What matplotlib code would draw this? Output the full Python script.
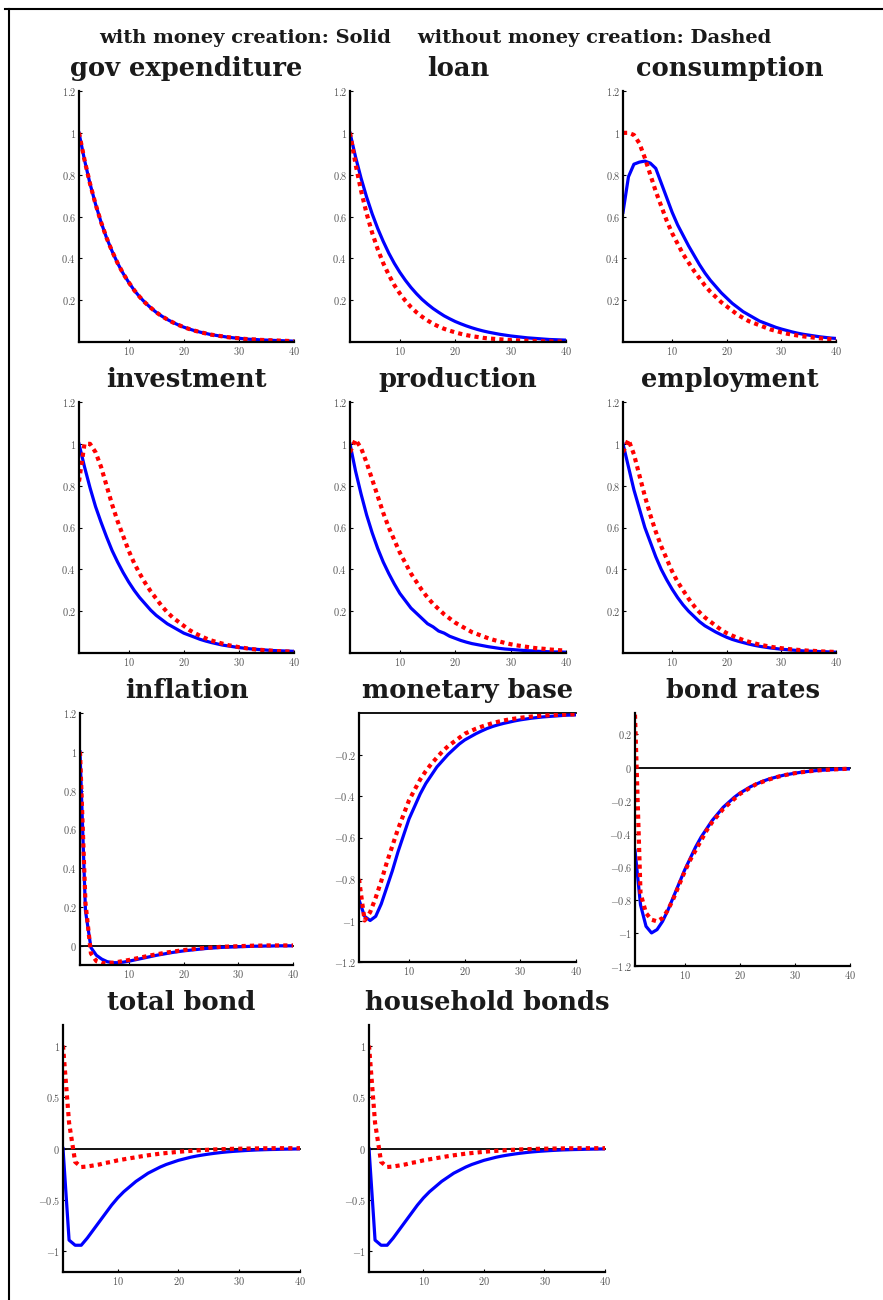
import numpy as np
import matplotlib
matplotlib.use('Agg')
import matplotlib.pyplot as plt
from matplotlib.lines import Line2D
from matplotlib.ticker import FuncFormatter

# periods after the shock
periods = np.arange(1, 41)

# impulse responses (solid = with money creation, dashed = without)
gov_with = [1.00, .87, .757, .659, .573, .498, .434, .377, .328, .286, .248, .216, .188, .164, .142, .124, .108, .094, .082, .071,
            .062, .054, .047, .041, .035, .031, .027, .023, .020, .018, .015, .013, .012, .010, .009, .008, .007, .006, .005, .004]
gov_without = [1.00, .87, .757, .659, .573, .498, .434, .377, .328, .286, .248, .216, .188, .164, .142, .124, .108, .094, .082, .071,
               .062, .054, .047, .041, .035, .031, .027, .023, .020, .018, .015, .013, .012, .010, .009, .008, .007, .006, .005, .004]

loan_with = [1.00, .885, .783, .693, .613, .543, .481, .425, .376, .333, .295, .261, .231, .204, .181, .160, .142, .125, .111, .098,
             .087, .077, .068, .060, .053, .047, .042, .037, .033, .029, .026, .023, .020, .018, .016, .014, .012, .011, .010, .009]
loan_without = [1.00, .85, .723, .614, .522, .444, .377, .321, .272, .232, .197, .167, .142, .121, .103, .087, .074, .063, .054, .046,
                .039, .033, .028, .024, .020, .017, .015, .013, .011, .009, .008, .007, .006, .005, .004, .003, .003, .002, .002, .002]

cons_with = [.62, .79, .85, .86, .865, .855, .83, .76, .69, .62, .56, .51, .46, .415, .37, .33, .295, .265, .235, .21,
             .185, .165, .145, .13, .115, .10, .09, .08, .07, .062, .055, .048, .042, .037, .033, .029, .025, .022, .019, .017]
cons_without = [1.00, 1.00, .99, .95, .88, .80, .72, .65, .58, .52, .47, .42, .38, .34, .305, .27, .24, .215, .19, .17,
                .15, .13, .115, .10, .09, .08, .07, .06, .053, .046, .04, .035, .031, .027, .024, .021, .018, .016, .014, .012]

inv_with = [1.00, .89, .79, .70, .625, .555, .49, .435, .385, .34, .30, .265, .235, .205, .18, .16, .14, .125, .11, .095,
            .085, .075, .065, .057, .05, .044, .038, .034, .03, .026, .023, .02, .018, .016, .014, .012, .011, .01, .009, .008]
inv_without = [.82, 1.00, 1.00, .96, .89, .80, .71, .63, .56, .49, .43, .38, .335, .295, .26, .225, .195, .17, .15, .13,
               .11, .095, .082, .07, .06, .052, .045, .038, .033, .028, .024, .02, .017, .015, .013, .011, .009, .008, .007, .006]

prod_with = [1.00, .87, .76, .66, .575, .50, .435, .38, .33, .285, .25, .215, .19, .165, .14, .125, .105, .095, .08, .07,
             .06, .052, .045, .04, .035, .03, .026, .022, .019, .017, .015, .013, .011, .01, .008, .007, .006, .005, .005, .004]
prod_without = [.96, 1.02, .98, .91, .83, .75, .67, .60, .54, .48, .43, .38, .34, .30, .265, .235, .21, .185, .165, .145,
                .13, .115, .10, .09, .08, .07, .062, .055, .048, .042, .037, .033, .029, .025, .022, .02, .017, .015, .013, .012]

emp_with = [1.00, .89, .78, .69, .60, .53, .46, .40, .35, .305, .265, .23, .20, .175, .15, .13, .115, .10, .087, .075,
            .065, .057, .05, .043, .037, .032, .028, .024, .021, .018, .016, .014, .012, .01, .009, .008, .007, .006, .005, .004]
emp_without = [.96, 1.02, .95, .85, .75, .66, .58, .51, .45, .39, .34, .30, .26, .225, .195, .17, .15, .13, .11, .095,
               .083, .072, .062, .054, .047, .04, .035, .03, .026, .023, .02, .017, .015, .013, .011, .01, .008, .007, .006, .005]

infl_with = [1.00, .18, -.01, -.05, -.07, -.083, -.088, -.088, -.085, -.08, -.074, -.068, -.062, -.056, -.05, -.045, -.04, -.035, -.031, -.027,
             -.024, -.021, -.018, -.015, -.013, -.011, -.009, -.008, -.007, -.006, -.005, -.004, -.003, -.003, -.002, -.002, -.001, -.001, -.001, -.001]
infl_without = [1.00, .22, -.04, -.08, -.09, -.09, -.088, -.084, -.079, -.074, -.068, -.062, -.056, -.05, -.045, -.04, -.035, -.031, -.027, -.023,
                -.02, -.017, -.014, -.012, -.01, -.008, -.006, -.005, -.004, -.003, -.002, -.001, 0, 0, .001, .001, .001, .001, .001, .001]

mb_with = [-.90, -.98, -1.0, -.98, -.92, -.84, -.76, -.67, -.59, -.51, -.45, -.39, -.34, -.30, -.26, -.23, -.20, -.175, -.15, -.13,
           -.115, -.10, -.087, -.075, -.065, -.057, -.05, -.044, -.038, -.033, -.029, -.025, -.022, -.019, -.017, -.015, -.013, -.011, -.01, -.009]
mb_without = [-.80, -1.0, -.96, -.89, -.81, -.72, -.64, -.56, -.49, -.42, -.37, -.32, -.28, -.245, -.215, -.185, -.16, -.14, -.12, -.10,
              -.088, -.076, -.066, -.057, -.049, -.042, -.036, -.031, -.027, -.023, -.02, -.017, -.015, -.013, -.011, -.01, -.009, -.008, -.007, -.006]

rate_with = [-.50, -.83, -.96, -1.0, -.98, -.93, -.86, -.78, -.70, -.62, -.55, -.48, -.42, -.37, -.32, -.28, -.24, -.21, -.18, -.155,
             -.135, -.115, -.10, -.085, -.073, -.063, -.054, -.046, -.04, -.034, -.029, -.025, -.021, -.018, -.016, -.014, -.012, -.01, -.009, -.008]
rate_without = [.32, -.76, -.88, -.92, -.93, -.91, -.86, -.79, -.71, -.63, -.56, -.50, -.44, -.38, -.33, -.29, -.25, -.22, -.19, -.16,
                -.14, -.12, -.10, -.088, -.075, -.065, -.055, -.047, -.04, -.034, -.029, -.025, -.021, -.018, -.015, -.013, -.011, -.01, -.008, -.007]

bond_with = [0, -.89, -.94, -.94, -.87, -.79, -.71, -.63, -.55, -.48, -.42, -.37, -.32, -.28, -.24, -.21, -.18, -.155, -.135, -.115,
             -.10, -.085, -.073, -.063, -.054, -.046, -.039, -.033, -.028, -.024, -.02, -.017, -.014, -.012, -.01, -.009, -.007, -.006, -.005, -.004]
bond_without = [1.0, .25, -.13, -.18, -.175, -.165, -.155, -.14, -.13, -.115, -.105, -.095, -.085, -.075, -.066, -.058, -.05, -.044, -.038, -.032,
                -.027, -.023, -.019, -.015, -.012, -.009, -.007, -.005, -.003, -.002, -.001, 0, .001, .002, .002, .003, .003, .003, .003, .003]

hh_with = [0, -.89, -.94, -.94, -.87, -.79, -.71, -.63, -.55, -.48, -.42, -.37, -.32, -.28, -.24, -.21, -.18, -.155, -.135, -.115,
           -.10, -.085, -.073, -.063, -.054, -.046, -.039, -.033, -.028, -.024, -.02, -.017, -.014, -.012, -.01, -.009, -.007, -.006, -.005, -.004]
hh_without = [1.0, .25, -.13, -.18, -.175, -.165, -.155, -.14, -.13, -.115, -.105, -.095, -.085, -.075, -.066, -.058, -.05, -.044, -.038, -.032,
              -.027, -.023, -.019, -.015, -.012, -.009, -.007, -.005, -.003, -.002, -.001, 0, .001, .002, .002, .003, .003, .003, .003, .003]

titles = ['gov expenditure', 'loan', 'consumption', 'investment', 'production', 'employment',
          'inflation', 'monetary base', 'bond rates', 'total bond', 'household bonds']
series_with = [gov_with, loan_with, cons_with, inv_with, prod_with, emp_with,
               infl_with, mb_with, rate_with, bond_with, hh_with]
series_without = [gov_without, loan_without, cons_without, inv_without, prod_without, emp_without,
                  infl_without, mb_without, rate_without, bond_without, hh_without]

pos_ticks = [0.2, 0.4, 0.6, 0.8, 1, 1.2]
infl_ticks = [0, 0.2, 0.4, 0.6, 0.8, 1, 1.2]
mb_ticks = [-1.2, -1, -0.8, -0.6, -0.4, -0.2]
rate_ticks = [-1.2, -1, -0.8, -0.6, -0.4, -0.2, 0, 0.2]
bond_ticks = [-1, -0.5, 0, 0.5, 1]

# axes boxes in pixels: left, right, top, bottom ; ylim ; yticks ; zero line
W, H = 883, 1300
layout = [
    ((79, 294, 91, 342), (0, 1.2), pos_ticks, False),
    ((350, 566, 91, 342), (0, 1.2), pos_ticks, False),
    ((623, 836, 91, 342), (0, 1.2), pos_ticks, False),
    ((79, 294, 402, 653), (0, 1.2), pos_ticks, False),
    ((350, 566, 402, 653), (0, 1.2), pos_ticks, False),
    ((623, 836, 402, 653), (0, 1.2), pos_ticks, False),
    ((80, 293, 713, 965), (-0.1, 1.2), infl_ticks, True),
    ((359, 576, 713, 962), (-1.2, 0), mb_ticks, True),
    ((635, 850, 713, 966), (-1.2, 0.33), rate_ticks, True),
    ((63, 300, 1025, 1272), (-1.2, 1.2), bond_ticks, True),
    ((369, 605, 1025, 1272), (-1.2, 1.2), bond_ticks, True),
]

plt.rcParams['mathtext.fontset'] = 'cm'
plt.rcParams['axes.unicode_minus'] = True

fig = plt.figure(figsize=(W / 100, H / 100), dpi=100)

fmt = FuncFormatter(lambda v, p: '$%s$' % ('%g' % round(v, 2)))

for name, yw, yo, (box, ylim, yt, zero) in zip(titles, series_with, series_without, layout):
    l, r, t, b = box
    ax = fig.add_axes([l / W, 1 - b / H, (r - l) / W, (b - t) / H])
    ax.plot(periods, yw, color='#0000ff', lw=2.3, solid_joinstyle='round')
    ax.plot(periods, yo, color='red', lw=3.0, linestyle=(0, (1, 1)))
    if zero:
        ax.axhline(0, color='black', lw=1.3, clip_on=False, zorder=1)
    ax.set_xlim(1, 40)
    ax.set_ylim(*ylim)
    ax.set_xticks([10, 20, 30, 40])
    ax.set_yticks(yt)
    ax.xaxis.set_major_formatter(fmt)
    ax.yaxis.set_major_formatter(fmt)
    for s in ['top', 'right']:
        ax.spines[s].set_visible(False)
    for s in ['left', 'bottom']:
        ax.spines[s].set_linewidth(1.6)
    ax.tick_params(direction='in', length=2.5, width=0.8, labelsize=7.4,
                   labelcolor='#555555', pad=2)
    ax.set_title(name, fontfamily='DejaVu Serif', fontweight='bold', fontsize=18.5,
                 color='#1a1a1a', pad=11)

fig.text(0.493, 1 - 38 / H, 'with money creation: Solid    without money creation: Dashed',
         fontfamily='DejaVu Serif', fontweight='bold', fontsize=14, color='#1a1a1a',
         ha='center', va='center')

# page frame
fig.add_artist(Line2D([5 / W, 1], [1 - 9 / H, 1 - 9 / H], color='black', lw=1.5, transform=fig.transFigure))
fig.add_artist(Line2D([9 / W, 9 / W], [0, 1 - 9 / H], color='black', lw=1.5, transform=fig.transFigure))

fig.savefig('out.png', dpi=100, facecolor='white')
